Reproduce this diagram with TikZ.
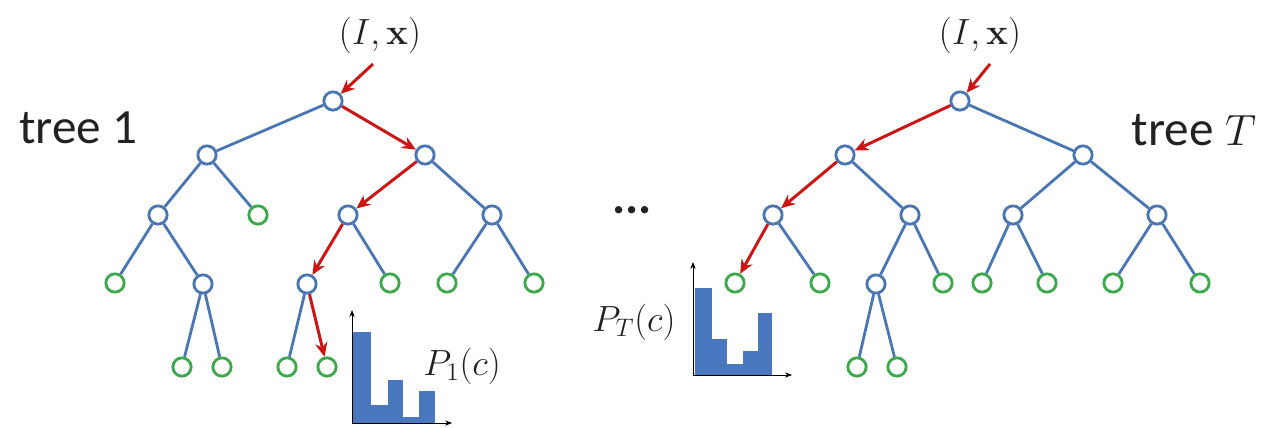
\documentclass[tikz,border=0pt]{standalone}
\usepackage{amsmath,amssymb}
\usepackage[no-math]{fontspec}
\setmainfont{Carlito}
\usetikzlibrary{arrows.meta}
\definecolor{branchblue}{HTML}{4A76B4}
\definecolor{leafgreen}{HTML}{3CAA4C}
\definecolor{routered}{HTML}{CC1616}
\definecolor{barblue}{HTML}{4A78BE}
\definecolor{labelgray}{HTML}{222222}
\tikzset{
  split/.style={circle, draw=branchblue, fill=white, line width=1.6pt, minimum size=10.4pt, inner sep=0pt},
  leaf/.style={circle, draw=leafgreen, fill=white, line width=1.6pt, minimum size=10.4pt, inner sep=0pt},
  branch/.style={draw=branchblue, line width=1.6pt},
  route/.style={-{Stealth[length=8pt,width=7pt]}, draw=routered, line width=1.7pt},
  hist axis/.style={-{Stealth[length=4pt,width=3pt]}, thin},
  bar/.style={fill=barblue},
  mathlabel/.style={text=labelgray, font=\fontsize{21pt}{24pt}\selectfont},
  treename/.style={text=labelgray, font=\fontsize{28pt}{32pt}\selectfont},
}

\begin{document}
\begin{tikzpicture}[x=0.02cm, y=-0.02cm]
  \useasboundingbox (0,0) rectangle (1261,428);

  % tree 1
  \node[split] (A) at (333,101) {};
  \node[split] (A0) at (207,155) {};
  \node[split] (A1) at (425,155) {};
  \node[split] (A00) at (158,215) {};
  \node[leaf]  (A01) at (258,215) {};
  \node[split] (A10) at (348,215) {};
  \node[split] (A11) at (492,215) {};
  \node[leaf]  (A000) at (115,283) {};
  \node[split] (A001) at (203,284) {};
  \node[split] (A100) at (307,284) {};
  \node[leaf]  (A101) at (390,283) {};
  \node[leaf]  (A110) at (447,283) {};
  \node[leaf]  (A111) at (534,283) {};
  \node[leaf]  (A0010) at (182,367) {};
  \node[leaf]  (A0011) at (222,367) {};
  \node[leaf]  (A1000) at (287,367) {};
  \node[leaf]  (A1001) at (327,367) {};

  \foreach \p/\c in {A/A0, A0/A00, A0/A01, A1/A11, A00/A000, A00/A001,
                     A10/A101, A11/A110, A11/A111, A001/A0010, A001/A0011, A100/A1000}
    \draw[branch] (\p) -- (\c);

  \node[mathlabel] (in1) at (380,35) {$(I,\mathbf{x})$};
  \coordinate (s1) at (373,64);
  \draw[route] (s1) -- (A);
  \draw[route] (A) -- (A1);
  \draw[route] (A1) -- (A10);
  \draw[route] (A10) -- (A100);
  \draw[route] (A100) -- (A1001);

  \node[treename] (name1) at (78,128) {tree 1};

  % histogram of tree 1
  \fill[bar] (353,423) rectangle (371,332);
  \fill[bar] (371,423) rectangle (388,405);
  \fill[bar] (388,423) rectangle (403,380);
  \fill[bar] (403,423) rectangle (419,417);
  \fill[bar] (419,423) rectangle (435,391);
  \coordinate (o1) at (352,423);
  \draw[hist axis] (o1) -- (352,310);
  \draw[hist axis] (o1) -- (452,423);
  \node[mathlabel] (p1) at (462,366) {$P_1(c)$};

  \node[treename] (dots) at (632,210) {\textbf{...}};

  % tree T
  \node[split] (B) at (960,101) {};
  \node[split] (B0) at (845,155) {};
  \node[split] (B1) at (1083,155) {};
  \node[split] (B00) at (773,215) {};
  \node[split] (B01) at (910,215) {};
  \node[split] (B10) at (1013,215) {};
  \node[split] (B11) at (1157,215) {};
  \node[leaf]  (B000) at (735,283) {};
  \node[leaf]  (B001) at (820,283) {};
  \node[split] (B010) at (876,284) {};
  \node[leaf]  (B011) at (943,283) {};
  \node[leaf]  (B100) at (982,283) {};
  \node[leaf]  (B101) at (1047,283) {};
  \node[leaf]  (B110) at (1113,283) {};
  \node[leaf]  (B111) at (1200,283) {};
  \node[leaf]  (B0100) at (857,367) {};
  \node[leaf]  (B0101) at (897,367) {};

  \foreach \p/\c in {B/B1, B0/B01, B1/B10, B1/B11, B00/B001, B01/B010, B01/B011,
                     B10/B100, B10/B101, B11/B110, B11/B111, B010/B0100, B010/B0101}
    \draw[branch] (\p) -- (\c);

  \node[mathlabel] (inT) at (980,35) {$(I,\mathbf{x})$};
  \coordinate (sT) at (990,64);
  \draw[route] (sT) -- (B);
  \draw[route] (B) -- (B0);
  \draw[route] (B0) -- (B00);
  \draw[route] (B00) -- (B000);

  \node[treename] (nameT) at (1194,130) {tree $T$};

  % histogram of tree T
  \fill[bar] (695,375) rectangle (712,288);
  \fill[bar] (712,375) rectangle (727,339);
  \fill[bar] (727,375) rectangle (743,364);
  \fill[bar] (743,375) rectangle (758,351);
  \fill[bar] (758,375) rectangle (772,313);
  \coordinate (oT) at (693,375);
  \draw[hist axis] (oT) -- (693,262);
  \draw[hist axis] (oT) -- (792,375);
  \node[mathlabel] (pT) at (634,322) {$P_T(c)$};

\end{tikzpicture}
\end{document}
